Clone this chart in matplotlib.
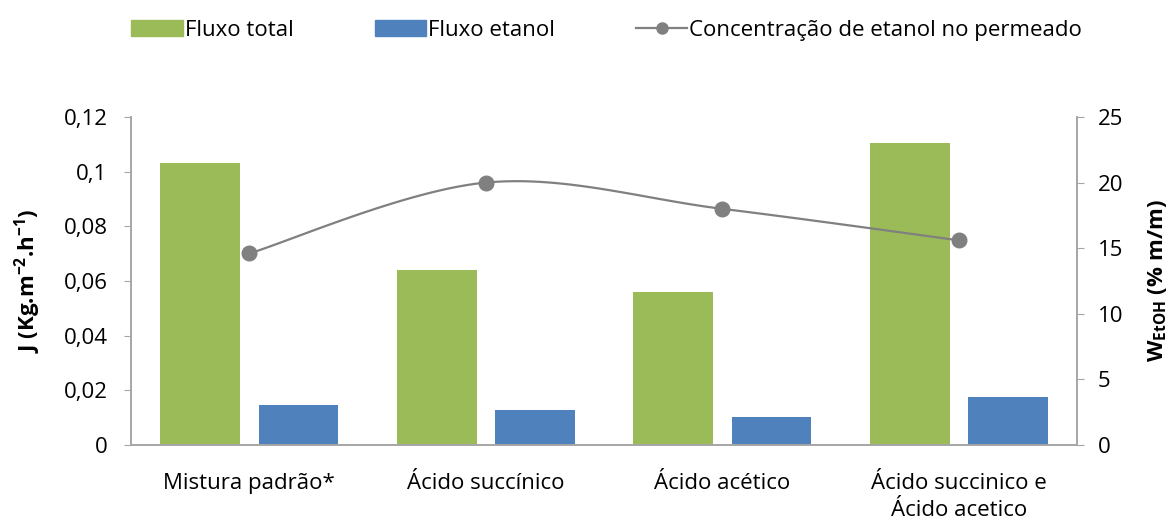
import numpy as np
import matplotlib.pyplot as plt
from matplotlib.lines import Line2D
from matplotlib.patches import Patch

plt.rcParams['font.family'] = ['Open Sans', 'DejaVu Sans']
plt.rcParams['mathtext.fontset'] = 'custom'
plt.rcParams['mathtext.bf'] = 'Open Sans:bold'
plt.rcParams['mathtext.rm'] = 'Open Sans'

# dados do ensaio de pervaporação
categorias = ['Mistura padrão*', 'Ácido succínico', 'Ácido acético',
              'Ácido succinico e\nÁcido acetico']
fluxo_total = [0.1032, 0.0641, 0.0561, 0.1105]
fluxo_etanol = [0.0147, 0.0128, 0.0102, 0.0176]
conc_etanol = [14.6, 20.0, 18.0, 15.6]

verde = '#9BBB59'
azul = '#4F81BD'
cinza = '#808080'
eixo = '#A6A6A6'


def curva_suave(x, y, n=40):
    # curva bezier cubica passando pelos pontos (tipo linha suavizada)
    x = np.asarray(x, float)
    y = np.asarray(y, float)
    px, py = [], []
    for i in range(len(x) - 1):
        x0, y0 = x[max(i - 1, 0)], y[max(i - 1, 0)]
        x1, y1 = x[i], y[i]
        x2, y2 = x[i + 1], y[i + 1]
        x3, y3 = x[min(i + 2, len(x) - 1)], y[min(i + 2, len(x) - 1)]
        c1x, c1y = x1 + (x2 - x0) / 6, y1 + (y2 - y0) / 6
        c2x, c2y = x2 - (x3 - x1) / 6, y2 - (y3 - y1) / 6
        t = np.linspace(0, 1, n)
        px.append((1-t)**3*x1 + 3*(1-t)**2*t*c1x + 3*(1-t)*t**2*c2x + t**3*x2)
        py.append((1-t)**3*y1 + 3*(1-t)**2*t*c1y + 3*(1-t)*t**2*c2y + t**3*y2)
    return np.concatenate(px), np.concatenate(py)


fig = plt.figure(figsize=(11.67, 5.22), dpi=100)
ax = fig.add_axes([0.1123, 0.1475, 0.8106, 0.6284])
ax2 = ax.twinx()

x = np.arange(len(categorias))
larg = 0.338
ax.bar(x - 0.208, fluxo_total, larg, color=verde, zorder=2)
ax.bar(x + 0.208, fluxo_etanol, larg, color=azul, zorder=2)

xs, ys = curva_suave(x, conc_etanol)
ax2.plot(xs, ys, color=cinza, lw=1.6, zorder=3)
ax2.plot(x, conc_etanol, 'o', color=cinza, ms=10.5, zorder=4)

ax.set_xlim(-0.5, 3.5)
ax.set_ylim(0, 0.12)
ax.set_yticks(np.arange(0, 0.121, 0.02))
ax.set_yticklabels(['0', '0,02', '0,04', '0,06', '0,08', '0,1', '0,12'])
ax2.set_ylim(0, 25)
ax2.set_yticks(range(0, 26, 5))

fs = 16
ax.set_xticks(x)
ax.set_xticklabels(categorias, fontsize=fs, linespacing=1.4, va='top')
ax.tick_params(axis='x', length=0, pad=20)
ax.tick_params(axis='y', labelsize=fs, length=5, color=eixo, pad=12)
ax2.tick_params(axis='y', labelsize=fs, length=5, color=eixo, pad=10)

for a in (ax, ax2):
    a.spines['top'].set_visible(False)
    for s in ('left', 'right', 'bottom'):
        a.spines[s].set_color(eixo)
        a.spines[s].set_linewidth(1.2)

ax.set_ylabel('J (Kg.m$^{\\mathbf{-2}}$.h$^{\\mathbf{-1}}$)', fontsize=fs,
              fontweight='bold', labelpad=15)
ax2.set_ylabel('W$_{\\mathbf{EtOH}}$ (% m/m)', fontsize=fs,
               fontweight='bold', labelpad=16)

handles = [Patch(color=verde), Patch(color=azul),
           Line2D([0], [0], color=cinza, lw=1.6, marker='o', ms=8)]
rotulos = ['Fluxo total', 'Fluxo etanol', 'Concentração de etanol no permeado']
fig.legend(handles, rotulos, loc='upper center', bbox_to_anchor=(0.52, 1.0),
           ncol=3, frameon=False, fontsize=fs, handlelength=2.3,
           handleheight=0.7, handletextpad=0.1, columnspacing=3.65)

fig.savefig('out.png', dpi=100)
